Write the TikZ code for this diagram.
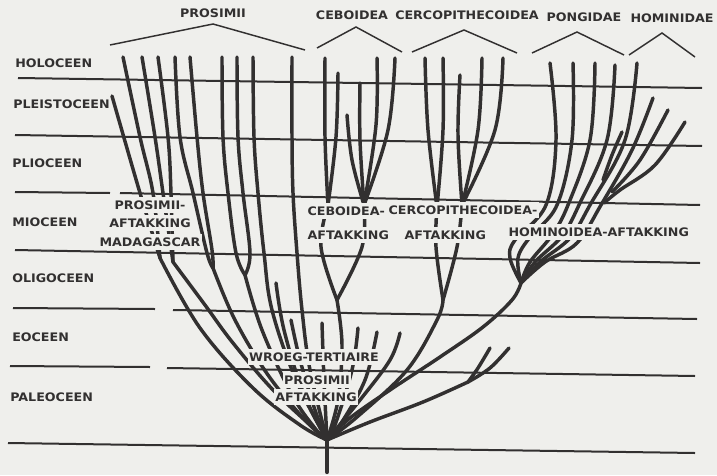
\documentclass[tikz,border=0pt]{standalone}
\usepackage{fontspec}
\setmainfont{DejaVu Sans}[FakeStretch=1.08]
\definecolor{paper}{RGB}{239,239,236}
\definecolor{ink}{RGB}{50,48,48}
\tikzset{
  br/.style={draw=ink,line width=2.6pt,line cap=round,line join=round},
  epline/.style={draw=ink,line width=1.5pt},
  roof/.style={draw=ink,line width=1.1pt},
  lbl/.style={font=\bfseries\fontsize{8.8}{10}\selectfont,text=ink,inner sep=0pt},
  cut/.style={lbl,fill=paper,inner xsep=1pt,inner ysep=3pt},
}
\newcommand{\branchpath}[1]{\draw[br] plot[smooth,tension=0.6] coordinates {#1};}
\begin{document}
\begin{tikzpicture}[x=0.75pt,y=-0.75pt]
\fill[paper] (0,0) rectangle (717,475);
\useasboundingbox (0,0) rectangle (717,475);

% epoch boundaries
\draw[epline] (18,78) -- (702,88);
\draw[epline] (15,135) -- (702,146);
\draw[epline] (15,192) -- (110,193);
\draw[epline] (120,193) -- (700,205);
\draw[epline] (15,250) -- (700,263);
\draw[epline] (13,308) -- (155,309);
\draw[epline] (173,310) -- (697,319);
\draw[epline] (10,366) -- (150,367);
\draw[epline] (167,368) -- (695,376);
\draw[epline] (8,443) -- (695,453);

% epoch labels
\node[lbl,anchor=west] (holo) at (15,63) {HOLOCEEN};
\node[lbl,anchor=west] (pleis) at (13,104) {PLEISTOCEEN};
\node[lbl,anchor=west] (plio) at (12,163) {PLIOCEEN};
\node[lbl,anchor=west] (mio) at (12,222) {MIOCEEN};
\node[lbl,anchor=west] (oligo) at (12,278) {OLIGOCEEN};
\node[lbl,anchor=west] (eo) at (12,337) {EOCEEN};
\node[lbl,anchor=west] (paleo) at (10,397) {PALEOCEEN};

% group headers and roofs
\node[lbl] (hpros) at (213,13) {PROSIMII};
\node[lbl] (hceb) at (352,15) {CEBOIDEA};
\node[lbl] (hcerc) at (467,15) {CERCOPITHECOIDEA};
\node[lbl] (hpong) at (584,17) {PONGIDAE};
\node[lbl] (hhom) at (672,18) {HOMINIDAE};
\draw[roof] (110,45) -- (213,24) -- (305,50);
\draw[roof] (317,48) -- (356,27) -- (402,52);
\draw[roof] (412,52) -- (464,30) -- (517,53);
\draw[roof] (532,53) -- (577,32) -- (624,55);
\draw[roof] (629,55) -- (662,33) -- (695,57);

% key points
\coordinate (R) at (327,440);
\coordinate (Rb) at (327,472);
\coordinate (M1) at (160,258);
\coordinate (M2) at (173,262);
\coordinate (J45) at (213,268);
\coordinate (J67) at (245,275);
\coordinate (CL) at (328,205);
\coordinate (CR) at (364,205);
\coordinate (CF) at (337,300);
\coordinate (KL) at (437,207);
\coordinate (KR) at (462,205);
\coordinate (KF) at (443,300);
\coordinate (HJ) at (521,283);
\coordinate (QJ) at (468,382);

% trunk
\draw[br,line width=3.2pt] (Rb) -- (R);

% Prosimii - Madagascar
\branchpath{(112,96) (140,193) (M1)}
\branchpath{(123,57) (140,137) (153,193) (M1)}
\branchpath{(142,57) (155,137) (163,193) (M2)}
\branchpath{(158,57) (168,137) (171,193) (M2)}
\branchpath{(M1) (200,328) (253,388) (300,425) (R)}
\branchpath{(M2) (205,305) (233,343) (275,392) (R)}

% Prosimii - others
\branchpath{(175,57) (180,137) (193,193) (207,253) (J45)}
\branchpath{(190,57) (197,137) (203,193) (212,250) (J45)}
\branchpath{(J45) (235,320) (268,375) (305,420) (R)}
\branchpath{(222,57) (223,137) (228,193) (236,253) (J67)}
\branchpath{(237,57) (238,137) (243,193) (250,253) (J67)}
\branchpath{(J67) (262,330) (292,395) (318,432) (R)}
\branchpath{(253,57) (254,137) (258,193) (264,253) (272,310) (296,380) (R)}
\branchpath{(292,57) (292,137) (293,193) (297,253) (302,310) (310,370) (R)}

% early tertiary prosimii
\branchpath{(276,283) (284,330) (303,392) (R)}
\branchpath{(291,320) (300,360) (315,410) (R)}
\branchpath{(322,323) (324,380) (R)}
\branchpath{(358,328) (352,370) (335,425) (R)}
\branchpath{(377,332) (365,380) (340,425) (R)}
\branchpath{(400,333) (390,360) (360,400) (R)}

% Ceboidea
\branchpath{(325,58) (325,137) (CL)}
\branchpath{(338,73) (336,137) (CL)}
\branchpath{(347,115) (352,160) (CR)}
\branchpath{(360,83) (360,140) (CR)}
\branchpath{(377,58) (376,125) (CR)}
\branchpath{(395,58) (388,130) (CR)}
\branchpath{(CL) (321,247) (CF)}
\branchpath{(CR) (362,247) (CF)}
\branchpath{(CF) (342,345) (338,400) (R)}

% Cercopithecoidea
\branchpath{(425,58) (428,130) (KL)}
\branchpath{(443,58) (443,130) (KL)}
\branchpath{(460,75) (458,135) (KR)}
\branchpath{(482,58) (478,130) (KR)}
\branchpath{(503,58) (495,130) (KR)}
\branchpath{(KL) (436,247) (KF)}
\branchpath{(KR) (457,247) (KF)}
\branchpath{(KF) (437,320) (407,370) (357,417) (R)}

% Hominoidea
\branchpath{(550,63) (556,140) (546,205) (515,240) (510,258) (HJ)}
\branchpath{(573,63) (572,140) (557,205) (530,237) (518,258) (HJ)}
\branchpath{(595,63) (590,140) (568,205) (552,235) (530,262) (HJ)}
\branchpath{(615,65) (607,140) (579,205) (562,236) (535,262) (HJ)}
\branchpath{(637,63) (625,140) (590,205) (570,238) (540,262) (HJ)}
\branchpath{(653,98) (632,150) (601,205) (577,243) (545,262) (HJ)}
\branchpath{(668,110) (640,160) (612,192)}
\branchpath{(685,122) (655,165) (620,190) (604,203)}
\branchpath{(622,132) (612,155) (603,180)}
\branchpath{(HJ) (512,300) (483,327) (440,357) (390,390) (350,418) (R)}

% late pair
\branchpath{(490,348) (478,368) (QJ)}
\branchpath{(509,348) (490,368) (QJ)}
\branchpath{(QJ) (423,402) (370,422) (R)}

% labels inside the tree (they hide the branches behind them)
\node[cut] (mad1) at (150,205) {PROSIMII-};
\node[cut] (mad2) at (150,223) {AFTAKKING};
\node[cut] (mad3) at (150,242) {MADAGASCAR};
\node[cut,anchor=west] (ceb1) at (306,211) {CEBOIDEA-};
\node[cut,anchor=west] (ceb2) at (306,235) {AFTAKKING};
\node[cut,anchor=west] (cer1) at (387,210) {CERCOPITHECOIDEA-};
\node[cut,anchor=west] (cer2) at (403,235) {AFTAKKING};
\node[cut,anchor=west] (hom1) at (507,232) {HOMINOIDEA-AFTAKKING};
\node[cut] (wt1) at (314,357) {WROEG-TERTIAIRE};
\node[cut] (wt2) at (317,380) {PROSIMII};
\node[cut] (wt3) at (316,397) {AFTAKKING};
\end{tikzpicture}
\end{document}
